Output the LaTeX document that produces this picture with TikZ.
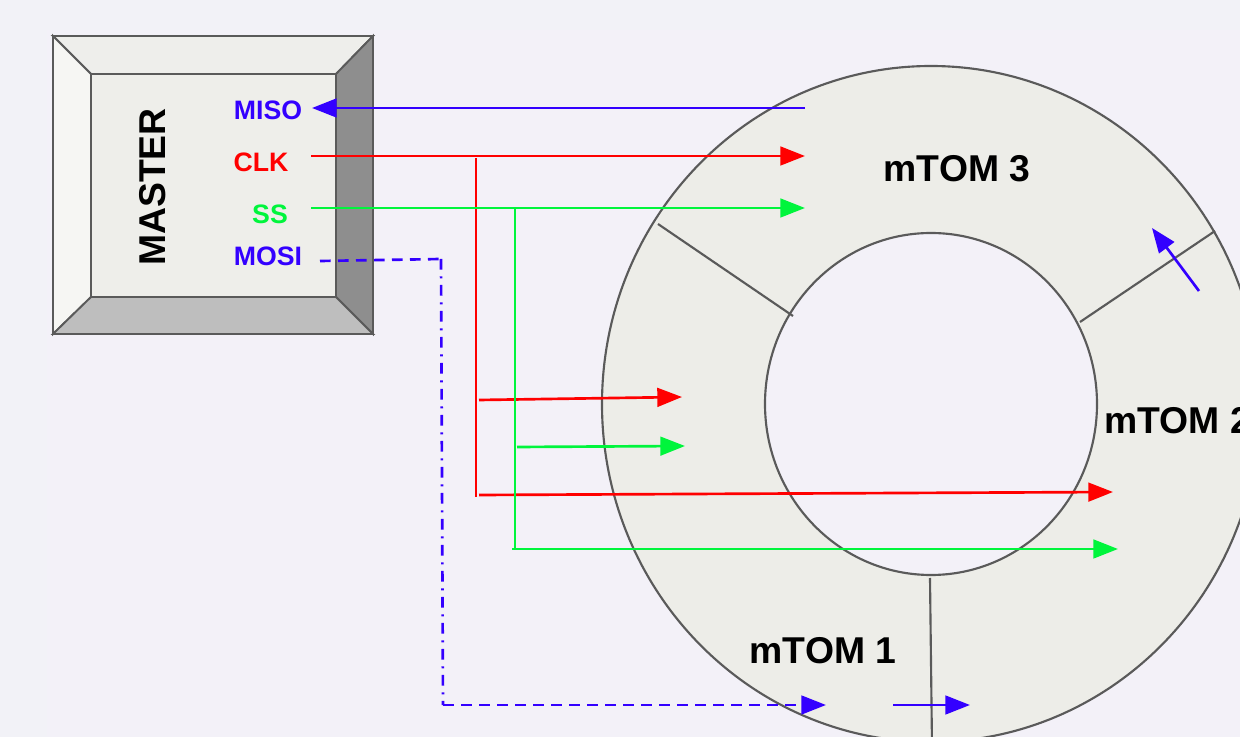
\documentclass[tikz,border=0pt]{standalone}
\usepackage{fontspec}
\setmainfont{Liberation Sans}
\usetikzlibrary{arrows.meta}
\definecolor{bgA}{HTML}{F2F2F7}
\definecolor{bgB}{HTML}{F3F1F8}
\definecolor{ringfill}{HTML}{EDEDE8}
\definecolor{edge}{HTML}{5A5A5A}
\definecolor{bevTop}{HTML}{EEEEEB}
\definecolor{bevLeft}{HTML}{F6F6F3}
\definecolor{bevRight}{HTML}{8E8E8E}
\definecolor{bevBot}{HTML}{BEBEBE}
\definecolor{face}{HTML}{EEEEEA}
\definecolor{sblue}{RGB}{51,0,255}
\definecolor{sred}{RGB}{255,0,0}
\definecolor{sgreen}{RGB}{0,245,60}
\tikzset{
  pinlbl/.style={font=\fontsize{20pt}{24pt}\selectfont\bfseries, inner sep=0pt},
  biglbl/.style={font=\fontsize{28pt}{32pt}\selectfont\bfseries, inner sep=0pt, text=black},
  wire/.style={line width=2pt},
  tip/.style={-{Triangle[length=18.5pt,width=14pt]}},
  bevel/.style={draw=edge, line width=1.4pt, line join=miter},
  divider/.style={draw=edge, line width=1.6pt},
  dashline/.style={dash pattern=on 8pt off 5.5pt},
  dashdotline/.style={dash pattern=on 8pt off 5pt on 1.5pt off 5pt}
}
\begin{document}
\begin{tikzpicture}[x=0.75pt,y=-0.75pt]
\useasboundingbox (0,0) rectangle (1240,737);
\clip (0,0) rectangle (1240,737);
\fill[bgA] (0,0) rectangle (1240,737);
\fill[bgB] (47,30) rectangle (1240,737);

% ring
\coordinate (ringC) at (931,404);
\filldraw[fill=ringfill, draw=edge, line width=1.6pt] (ringC) ellipse [x radius=246.75pt, y radius=253.5pt];
\filldraw[fill=bgB, draw=edge, line width=1.6pt] (ringC) ellipse [x radius=124.5pt, y radius=128.25pt];
\draw[divider] (658,224) -- (793,316);
\draw[divider] (1080,322) -- (1215,231);
\draw[divider] (930,578) -- (932,745);

% master box
\filldraw[bevel, fill=bevTop] (53,36) -- (373,36) -- (336,74) -- (91,74) -- cycle;
\filldraw[bevel, fill=bevLeft] (53,36) -- (91,74) -- (91,297) -- (53,334) -- cycle;
\filldraw[bevel, fill=bevRight] (373,36) -- (373,334) -- (336,297) -- (336,74) -- cycle;
\filldraw[bevel, fill=bevBot] (53,334) -- (373,334) -- (336,297) -- (91,297) -- cycle;
\filldraw[bevel, fill=face] (91,74) rectangle (336,297);
\draw[draw=edge, line width=2pt] (53,36) rectangle (373,334);

% labels
\node[biglbl, rotate=90] (master) at (153,187) {MASTER};
\node[pinlbl, text=sblue] (miso) at (268,110) {MISO};
\node[pinlbl, text=sred] (clk) at (261,162) {CLK};
\node[pinlbl, text=sgreen] (ss) at (270,214) {SS};
\node[pinlbl, text=sblue] (mosi) at (268,256) {MOSI};
\node[biglbl] (tom3) at (957,169) {mTOM 3};
\node[biglbl, anchor=west] (tom2) at (1104,421) {mTOM 2};
\node[biglbl] (tom1) at (823,651) {mTOM 1};

% pin / endpoint coordinates
\coordinate (misoPin) at (312,108);
\coordinate (misoSrc) at (805,108);
\coordinate (clkPin) at (311,156);
\coordinate (clk3) at (805,156);
\coordinate (clkTop) at (476,158);
\coordinate (clkBot) at (476,497);
\coordinate (clkB1s) at (479,400);
\coordinate (clk2a) at (682,397);
\coordinate (clkB2s) at (479,495);
\coordinate (clk2b) at (1113,492);
\coordinate (ssPin) at (311,208);
\coordinate (ss3) at (805,208);
\coordinate (ssTop) at (515,209);
\coordinate (ssBot) at (515,550);
\coordinate (ssB1s) at (517,447);
\coordinate (ss2a) at (685,446);
\coordinate (ssB2s) at (512,549);
\coordinate (ss2b) at (1118,549);
\coordinate (mosiPin) at (320,261);
\coordinate (mosiK1) at (441,259);
\coordinate (mosiK2) at (443,705);
\coordinate (mosi1) at (826,705);
\coordinate (ringAs) at (893,705);
\coordinate (ringAe) at (970,705);
\coordinate (ringBs) at (1199,291);
\coordinate (ringBe) at (1152,228);

% MISO
\draw[wire, sblue, tip] (misoSrc) -- (misoPin);
% CLK
\draw[wire, sred, tip] (clkPin) -- (clk3);
\draw[wire, sred] (clkTop) -- (clkBot);
\draw[wire, sred, tip] (clkB1s) -- (clk2a);
\draw[wire, sred, tip] (clkB2s) -- (clk2b);
% SS
\draw[wire, sgreen, tip] (ssPin) -- (ss3);
\draw[wire, sgreen] (ssTop) -- (ssBot);
\draw[wire, sgreen, tip] (ssB1s) -- (ss2a);
\draw[wire, sgreen, tip] (ssB2s) -- (ss2b);
% MOSI
\draw[wire, sblue, dashline] (mosiPin) -- (mosiK1);
\draw[wire, sblue, dashdotline] (mosiK1) -- (mosiK2);
\draw[wire, sblue, dashline, tip] (mosiK2) -- (mosi1);
% ring data flow
\draw[wire, sblue, tip] (ringAs) -- (ringAe);
\draw[wire, sblue, tip] (ringBs) -- (ringBe);
\end{tikzpicture}
\end{document}
